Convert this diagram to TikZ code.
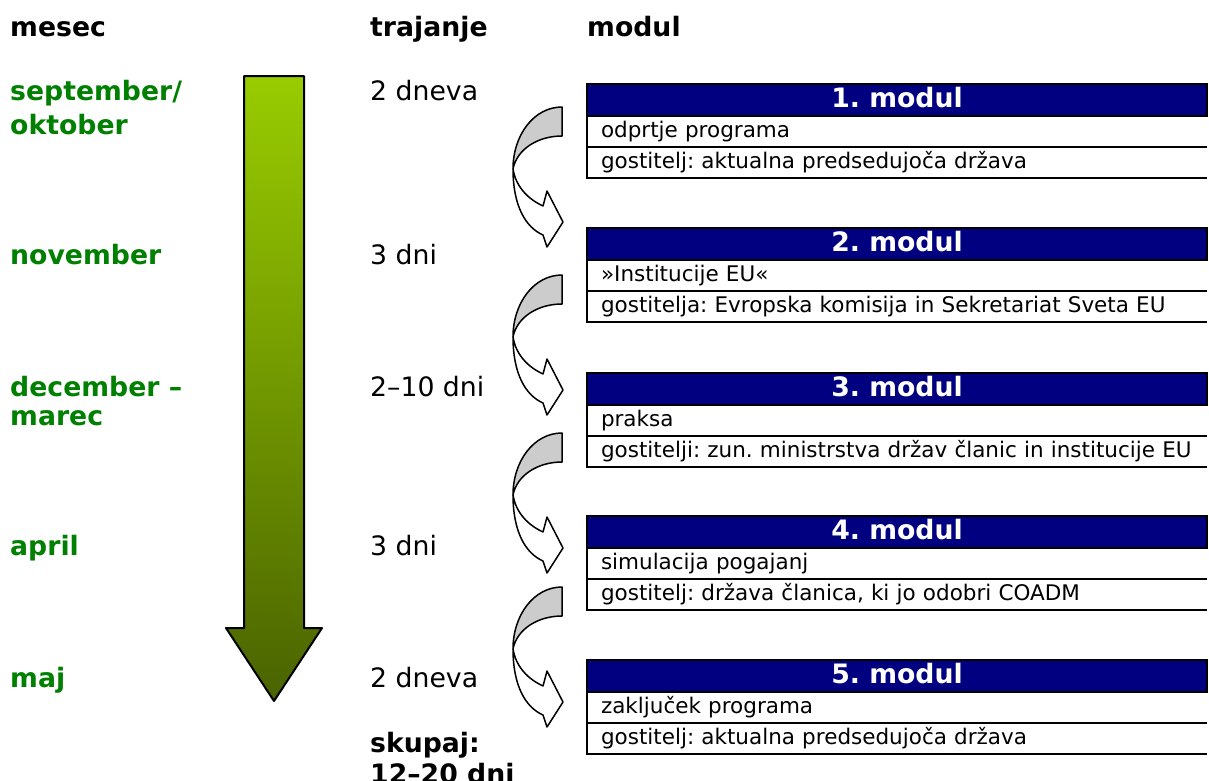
\documentclass[tikz,border=0pt]{standalone}
\usepackage{fontspec}
\setmainfont{DejaVu Sans}
\usetikzlibrary{positioning}
\frenchspacing
\definecolor{modnavy}{RGB}{0,0,128}
\definecolor{monthgreen}{RGB}{0,128,0}
\definecolor{arrtop}{RGB}{153,204,0}
\definecolor{arrbot}{RGB}{74,99,0}
\definecolor{bendgray}{RGB}{204,204,204}
\tikzset{
	colhead/.style={anchor=base west, inner sep=0pt, font=\fontsize{26.7pt}{32pt}\selectfont\bfseries},
	monthtext/.style={colhead, text=monthgreen},
	durtext/.style={anchor=base west, inner sep=0pt, font=\fontsize{26.7pt}{32pt}\selectfont},
	modhead/.style={draw, line width=2pt, fill=modnavy, text=white, outer sep=0pt, inner sep=0pt,
		minimum width=620pt, minimum height=32pt, text height=19pt, text depth=5pt,
		font=\fontsize{26.7pt}{32pt}\selectfont\bfseries},
	modrow/.style={anchor=north west, outer sep=0pt, inner xsep=14pt, inner ysep=0pt,
		text width=610pt, align=left, minimum height=31pt, text height=16pt, text depth=5pt,
		font=\fontsize{21.5pt}{26pt}\selectfont},
	pics/bendarrow/.style={code={
		\draw[line width=1.5pt, line join=round, fill=bendgray]
			(0,0) .. controls (-28,0) and (-49,28) .. (-49,62)
			.. controls (-45,42) and (-24,29) .. (0,29) -- cycle;
		\draw[line width=1.5pt, line join=round, fill=white]
			(-49,62) .. controls (-49,98) and (-37,120) .. (-19,128)
			-- (-15,140) -- (1,115) -- (-15,84) -- (-19,99)
			.. controls (-34,92) and (-46,80) .. (-49,62) -- cycle;
	}}
}
\begin{document}
\begin{tikzpicture}[x=1pt, y=-1pt]
	\useasboundingbox (0,0) rectangle (1209,780);
	\node[colhead] (hmesec) at (10,36) {mesec};
	\node[colhead] (htraj) at (370,36) {trajanje};
	\node[colhead] (hmodul) at (587,36) {modul};
	\shade[top color=arrtop, bottom color=arrbot, draw=black, line width=2pt, line join=round]
		(244,76) -- (304,76) -- (304,628) -- (322,628) -- (274,701) -- (226,628) -- (244,628) -- cycle;
	\foreach \n/\y/\txt in {m1/100/{september/}, m2/134/oktober, m3/264/november, m4/396/december –,
		m5/425/marec, m6/555/april, m7/687/maj}
		\node[monthtext] (\n) at (10,\y) {\txt};
	\foreach \n/\y/\txt in {d1/100/2 dneva, d2/264/3 dni, d3/396/2–10 dni, d4/555/3 dni, d5/687/2 dneva}
		\node[durtext] (\n) at (370,\y) {\txt};
	\node[colhead] (sum1) at (370,752) {skupaj:};
	\node[colhead] (sum2) at (370,783) {12–20 dni};
	\foreach \i/\top/\first/\second in {
		1/84/odprtje programa/gostitelj: aktualna predsedujoča država,
		2/228/»Institucije EU«/gostitelja: Evropska komisija in Sekretariat Sveta EU,
		3/373/praksa/gostitelji: zun. ministrstva držav članic in institucije EU,
		4/516/simulacija pogajanj/{gostitelj: država članica, ki jo odobri COADM},
		5/660/zaključek programa/gostitelj: aktualna predsedujoča država}
	{
		\node[modhead] (mod-\i) at (897,\top+16) {\i. modul};
		\node[modrow] (mod-\i-a) at (mod-\i.south west) {\first};
		\node[modrow] (mod-\i-b) at (mod-\i-a.south west) {\second};
		\draw[line width=2pt] (mod-\i-a.north west) -- (mod-\i-b.south west) -- (mod-\i-b.south west -| mod-\i.east);
		\draw[line width=2pt] (mod-\i-a.south west) -- (mod-\i-a.south west -| mod-\i.east);
	}
	\pic (bend1) at (562,107) {bendarrow};
	\pic (bend2) at (562,275) {bendarrow};
	\pic (bend3) at (562,433) {bendarrow};
	\pic (bend4) at (562,587) {bendarrow};
\end{tikzpicture}
\end{document}
